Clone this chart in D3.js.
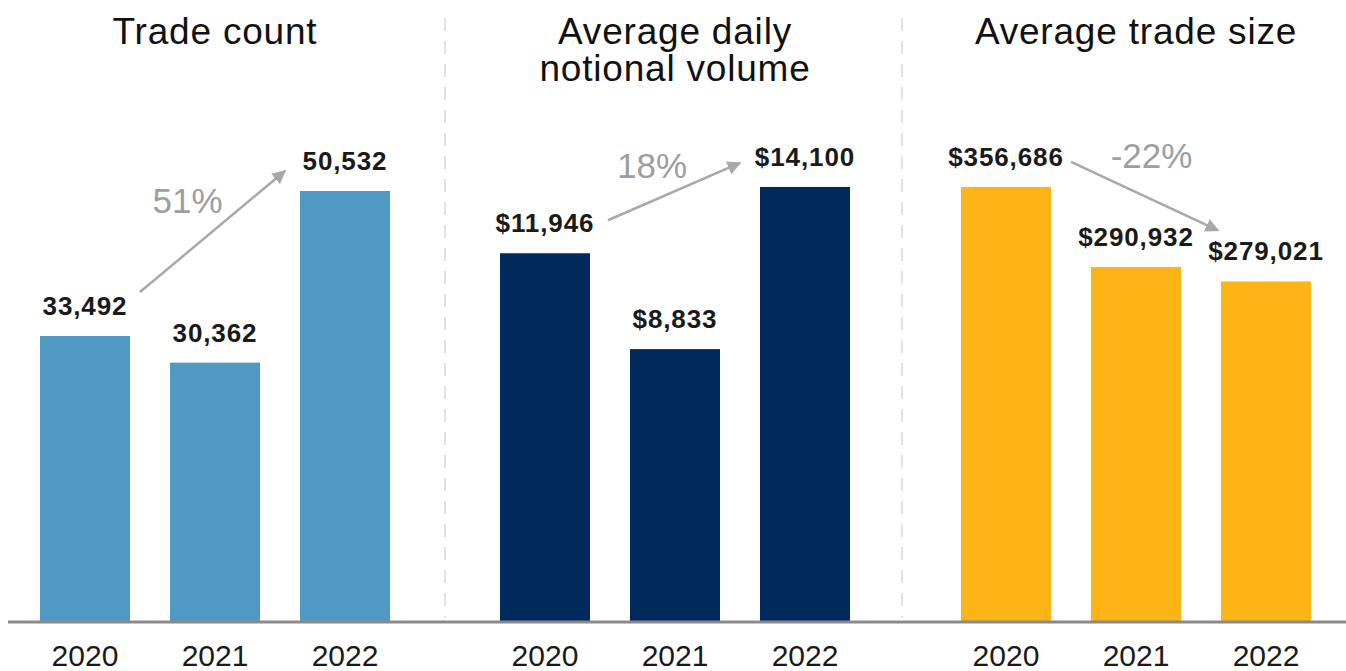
<!DOCTYPE html>
<html>
<head>
<meta charset="utf-8">
<script src="https://cdn.jsdelivr.net/npm/d3@7"></script>
<style>
  body { margin: 0; background: #fff; }
  text { font-family: "Liberation Sans", Arial, sans-serif; }
</style>
</head>
<body>
<div id="chart-area"></div>
<script>
// data
var years = ["2020", "2021", "2022"];
var tradeCount = [33492, 30362, 50532];
var dailyVolume = [11946, 8833, 14100];
var tradeSize = [356686, 290932, 279021];
var titles = [["Trade count"], ["Average daily", "notional volume"], ["Average trade size"]];

var width = 1346, height = 671;
var baseY = 621;

var svg = d3.select("#chart-area").append("svg")
    .attr("width", width)
    .attr("height", height);

var fmtCount = d3.format(",");
var fmtMoney = function(v) { return "$" + d3.format(",")(v); };
var fmtPct = function(v) { return d3.format(".0%")(v).replace("\u2212", "-"); };

// one config per panel (layout only)
var panels = [
  { values: tradeCount, fmt: fmtCount, color: "#4f9ac4", x0: 20, x1: 410, yMax: 57700,
    arrowStart: [10, -44], arrowEnd: [-15, -20], pctOffset: [-25, -18] },
  { values: dailyVolume, fmt: fmtMoney, color: "#012b5c", x0: 480, x1: 870, yMax: 15950,
    arrowStart: [18, -33], arrowEnd: [-20, -24], pctOffset: [-22, -14] },
  { values: tradeSize, fmt: fmtMoney, color: "#fdb417", x0: 941, x1: 1331, yMax: 403500,
    arrowStart: [20, -25], arrowEnd: [-3, -51], pctOffset: [7, -28] }
];

var defs = svg.append("defs");
defs.append("marker")
    .attr("id", "head")
    .attr("viewBox", "0 0 10 10")
    .attr("refX", 9).attr("refY", 5)
    .attr("markerWidth", 5.5).attr("markerHeight", 5.5)
    .attr("markerUnits", "strokeWidth")
    .attr("orient", "auto")
  .append("path")
    .attr("d", "M0,0 L10,5 L0,10 Z")
    .attr("fill", "#a6a8ab");

// dashed separators
[445, 902].forEach(function(sx) {
  svg.append("line")
      .attr("x1", sx).attr("x2", sx)
      .attr("y1", 18).attr("y2", 618)
      .attr("stroke", "#e2e2e2")
      .attr("stroke-width", 2)
      .attr("stroke-dasharray", "13,10");
});

panels.forEach(function(p, i) {
  var g = svg.append("g");

  var x = d3.scaleBand()
      .domain(years)
      .range([p.x0, p.x1])
      .paddingInner(0.3077)
      .paddingOuter(0.1538);

  var y = d3.scaleLinear()
      .domain([0, p.yMax])
      .range([baseY, baseY - 491]);

  var data = years.map(function(yr, j) { return { year: yr, value: p.values[j] }; });

  g.selectAll("rect")
      .data(data)
    .enter().append("rect")
      .attr("x", function(d) { return x(d.year); })
      .attr("y", function(d) { return y(d.value); })
      .attr("width", x.bandwidth())
      .attr("height", function(d) { return baseY - y(d.value); })
      .attr("fill", p.color);

  g.selectAll(".val")
      .data(data)
    .enter().append("text")
      .attr("class", "val")
      .attr("x", function(d) { return x(d.year) + x.bandwidth() / 2; })
      .attr("y", function(d) { return y(d.value) - 21; })
      .attr("text-anchor", "middle")
      .attr("font-size", 26)
      .attr("font-weight", "bold")
      .attr("letter-spacing", 0.9)
      .attr("fill", "#1a1a1a")
      .text(function(d) { return p.fmt(d.value); });

  // year axis
  var axis = d3.axisBottom(x).tickSize(0).tickPadding(0);
  var ax = g.append("g")
      .attr("transform", "translate(0," + baseY + ")")
      .call(axis);
  ax.select(".domain").remove();
  ax.selectAll("text")
      .attr("y", 45)
      .attr("dy", 0)
      .attr("font-size", 30)
      .attr("font-family", "Liberation Sans, Arial, sans-serif")
      .attr("fill", "#1a1a1a");

  // title
  var t = g.append("text")
      .attr("x", (p.x0 + p.x1) / 2)
      .attr("text-anchor", "middle")
      .attr("font-size", 37)
      .attr("letter-spacing", 0.8)
      .attr("font-family", "Inter, sans-serif")
      .attr("fill", "#111");
  titles[i].forEach(function(line, k) {
    t.append("tspan")
        .attr("x", (p.x0 + p.x1) / 2)
        .attr("y", 44 + k * 37)
        .text(line);
  });

  // change arrow
  var first = data[0], last = data[2];
  var sx = x(first.year) + x.bandwidth() + p.arrowStart[0];
  var sy = y(first.value) + p.arrowStart[1];
  var ex = x(last.year) + p.arrowEnd[0];
  var ey = y(last.value) + p.arrowEnd[1];
  g.append("line")
      .attr("x1", sx).attr("y1", sy)
      .attr("x2", ex).attr("y2", ey)
      .attr("stroke", "#a6a8ab")
      .attr("stroke-width", 2.5)
      .attr("marker-end", "url(#head)");

  var change = last.value / first.value - 1;
  g.append("text")
      .attr("x", (sx + ex) / 2 + p.pctOffset[0])
      .attr("y", (sy + ey) / 2 + p.pctOffset[1])
      .attr("text-anchor", "middle")
      .attr("font-size", 35)
      .attr("font-family", "Inter, sans-serif")
      .attr("fill", "#9c9ea1")
      .text(fmtPct(change));
});

// baseline
svg.append("line")
    .attr("x1", 8).attr("x2", width)
    .attr("y1", baseY + 1).attr("y2", baseY + 1)
    .attr("stroke", "#8a8a8a")
    .attr("stroke-width", 3);
</script>
</body>
</html>
